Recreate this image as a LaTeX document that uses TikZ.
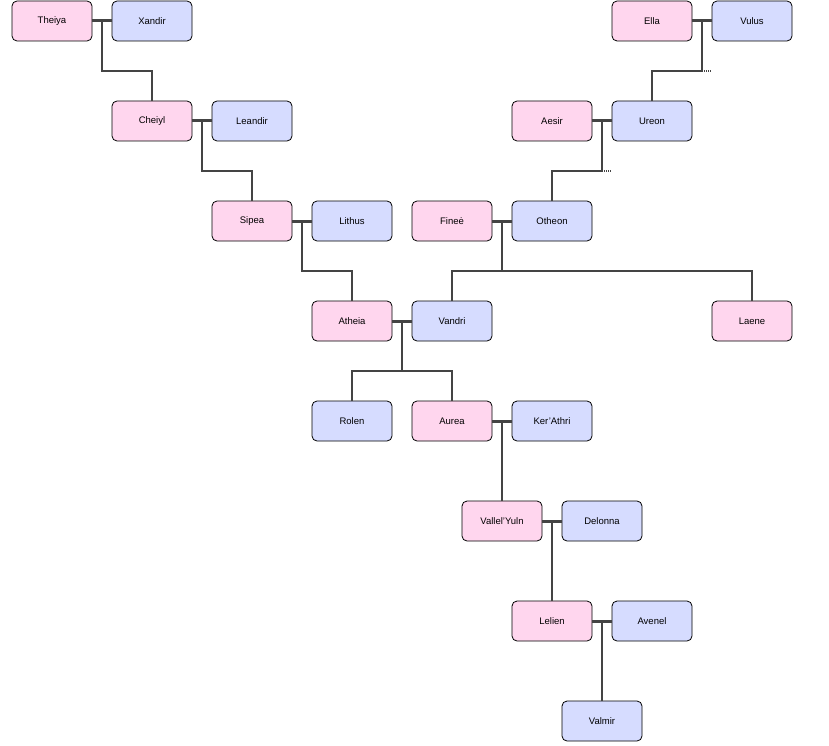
\documentclass[tikz,border=0pt]{standalone}
\usepackage{fontspec}
\setmainfont{Liberation Sans}
\begin{document}
\begin{tikzpicture}[x=1pt,y=-1pt,
  person/.style={draw=black,line width=0.8pt,rounded corners=5pt,minimum width=80pt,minimum height=40pt,inner sep=0pt,font=\fontsize{9.5}{11}\selectfont},
  fem/.style={person,fill=pinkc},
  mal/.style={person,fill=bluec},
  couple/.style={draw=linec,line width=3pt},
  kid/.style={draw=linec,line width=1.6pt},
  stub/.style={draw=linec,line width=1.6pt,dotted,dash pattern=on 1pt off 1pt}]
\definecolor{pinkc}{HTML}{FFD6EE}
\definecolor{bluec}{HTML}{D6DCFF}
\definecolor{linec}{HTML}{444444}
\useasboundingbox (0,0) rectangle (829,746);
\node[fem] (theiya) at (52,21) {Theiya};
\node[mal] (xandir) at (152,21) {Xandir};
\node[fem] (cheiyl) at (152,121) {Cheiyl};
\node[mal] (leandir) at (252,121) {Leandir};
\node[fem] (sipea) at (252,221) {Sipea};
\node[mal] (lithus) at (352,221) {Lithus};
\node[fem] (atheia) at (352,321) {Atheia};
\node[mal] (vandri) at (452,321) {Vandri};
\node[mal] (rolen) at (352,421) {Rolen};
\node[fem] (aurea) at (452,421) {Aurea};
\node[mal] (kerathri) at (552,421) {Ker'Athri};
\node[fem] (vallel) at (502,521) {Vallel'Yuln};
\node[mal] (delonna) at (602,521) {Delonna};
\node[fem] (lelien) at (552,621) {Lelien};
\node[mal] (avenel) at (652,621) {Avenel};
\node[mal] (valmir) at (602,721) {Valmir};
\node[fem] (ella) at (652,21) {Ella};
\node[mal] (vulus) at (752,21) {Vulus};
\node[fem] (aesir) at (552,121) {Aesir};
\node[mal] (ureon) at (652,121) {Ureon};
\node[fem] (finee) at (452,221) {Fineė};
\node[mal] (otheon) at (552,221) {Otheon};
\node[fem] (laene) at (752,321) {Laene};

\foreach \a/\b/\x in {theiya/xandir/102,cheiyl/leandir/202,sipea/lithus/302,atheia/vandri/402,aurea/kerathri/502,vallel/delonna/552,lelien/avenel/602,ella/vulus/702,aesir/ureon/602,finee/otheon/502}{
  \draw[couple] (\a.east) -- (\b.west);
  \coordinate (m-\a) at (\x,21);
}
\draw[kid] (102,21) |- (152,71) -- (cheiyl.north);
\draw[kid] (202,121) |- (252,171) -- (sipea.north);
\draw[kid] (302,221) |- (352,271) -- (atheia.north);
\draw[kid] (402,321) -- (402,371) -| (rolen.north);
\draw[kid] (402,371) -| (aurea.north);
\draw[kid] (502,421) -- (vallel.north);
\draw[kid] (552,521) -- (lelien.north);
\draw[kid] (602,621) -- (valmir.north);
\draw[kid] (702,21) |- (652,71) -- (ureon.north);
\draw[stub] (702,71) -- (712,71);
\draw[kid] (602,121) |- (552,171) -- (otheon.north);
\draw[stub] (602,171) -- (612,171);
\draw[kid] (502,221) -- (502,271) -| (vandri.north);
\draw[kid] (502,271) -| (laene.north);
\end{tikzpicture}
\end{document}
